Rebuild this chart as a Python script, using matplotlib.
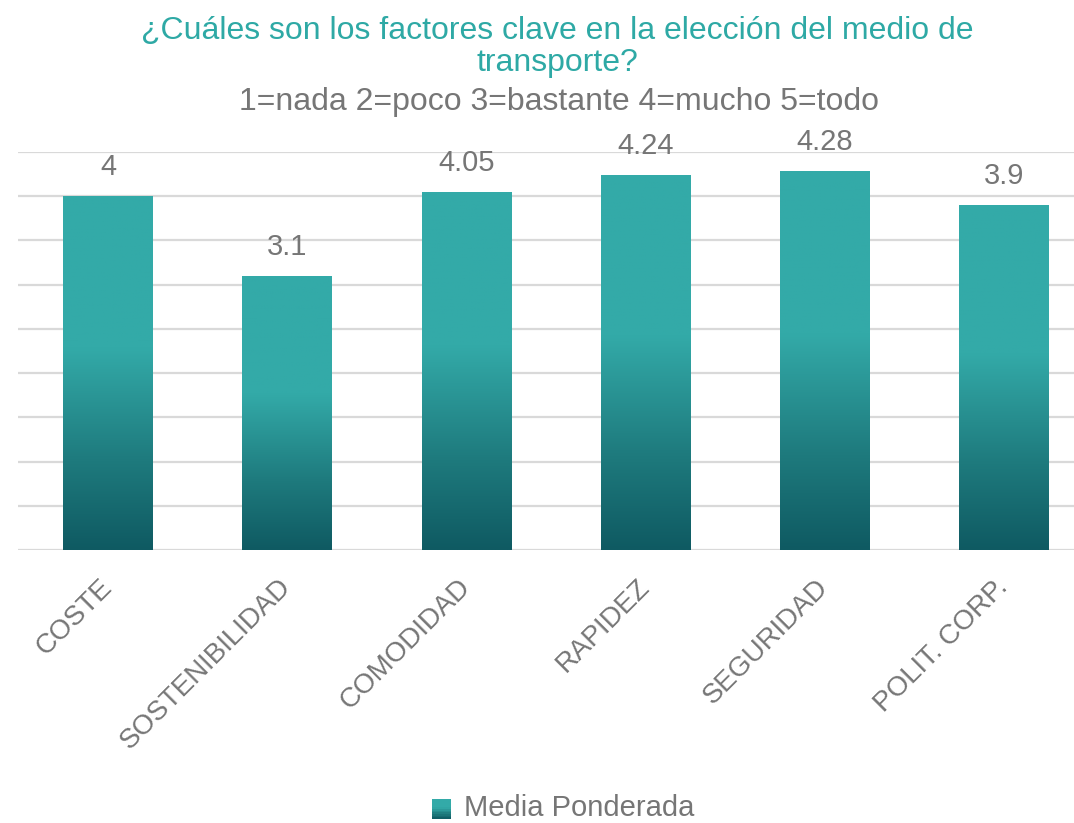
import numpy as np
import matplotlib
matplotlib.use("Agg")
import matplotlib.pyplot as plt
from matplotlib.colors import LinearSegmentedColormap
from matplotlib.legend_handler import HandlerBase
from matplotlib.patches import Rectangle

# --- datos ---
categorias = ["COSTE", "SOSTENIBILIDAD", "COMODIDAD", "RAPIDEZ", "SEGURIDAD", "POLIT. CORP."]
valores = [4, 3.1, 4.05, 4.24, 4.28, 3.9]
etiquetas = ["4", "3.1", "4.05", "4.24", "4.28", "3.9"]
serie = "Media Ponderada"

titulo = "¿Cuáles son los factores clave en la elección del medio de\ntransporte?"
subtitulo = "1=nada 2=poco 3=bastante 4=mucho 5=todo"

# --- estilo ---
plt.rcParams["font.family"] = ["Liberation Sans", "DejaVu Sans"]
gris = "#767676"
teal = "#33AAA8"
oscuro = "#0F5A62"
cmap = LinearSegmentedColormap.from_list(
    "grad", [(0.0, oscuro), (0.25, "#1E7A7D"), (0.57, teal), (1.0, teal)]
)

W, H = 1074, 823
fig = plt.figure(figsize=(W / 100, H / 100), dpi=100)
ax = fig.add_axes([18 / W, 1 - 550 / H, 1 - 18 / W, (550 - 152) / H])

x = np.arange(len(categorias))
bars = ax.bar(x, valores, width=0.5, color="none", zorder=3)

grad = np.linspace(0, 1, 256).reshape(-1, 1)
for b in bars:
    x0, h = b.get_x(), b.get_height()
    im = ax.imshow(grad, cmap=cmap, origin="lower", aspect="auto",
                   extent=(x0, x0 + b.get_width(), 0, h), zorder=3)
    im.set_clip_path(b)

for xi, v, t in zip(x, valores, etiquetas):
    ax.annotate(t, (xi, v), xytext=(0, 11), textcoords="offset points",
                ha="center", va="bottom", fontsize=21, color=gris)

ax.set_xlim(-0.502, (W - 108) / 179.2)
ax.set_ylim(0, 4.5)
ax.set_yticks(np.arange(0, 4.51, 0.5))
ax.set_yticklabels([])
ax.tick_params(axis="y", length=0)
ax.grid(axis="y", color="#D9D9D9", linewidth=1.6, zorder=0)
for s in ax.spines.values():
    s.set_visible(False)

ax.set_xticks(x)
ax.set_xticklabels(categorias, rotation=45, ha="right", va="center",
                   rotation_mode="anchor", fontsize=20, color=gris)
ax.tick_params(axis="x", length=0, pad=24)

fig.text(557 / W, 1 - 47 / H, titulo, ha="center", va="center",
         fontsize=23, color="#2EA9A5", linespacing=1.05)
fig.text(559 / W, 1 - 102 / H, subtitulo, ha="center", va="center",
         fontsize=23, color=gris)


class HandlerGrad(HandlerBase):
    def create_artists(self, legend, orig, xd, yd, width, height, fontsize, trans):
        n = 12
        arts = []
        s = height * 0.95
        for i in range(n):
            r = Rectangle((xd + (width - s) / 2, yd - 2 + i * s / n), s, s / n,
                          facecolor=cmap((i + 0.5) / n), edgecolor="none", transform=trans)
            arts.append(r)
        return arts


h = Rectangle((0, 0), 1, 1)
fig.legend([h], [serie], handler_map={Rectangle: HandlerGrad()},
           loc="center", bbox_to_anchor=(562 / W, 1 - 808 / H), frameon=False,
           fontsize=21, labelcolor=gris, handlelength=0.8, handletextpad=0.35)

fig.savefig("out.png", dpi=100)
